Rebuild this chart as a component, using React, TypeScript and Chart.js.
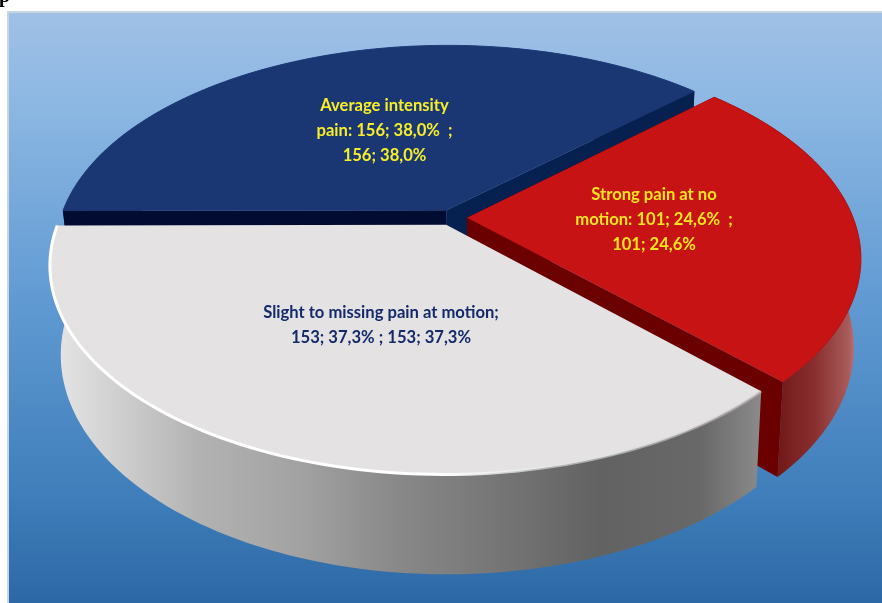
import React, { useEffect, useRef } from "react";
import { Chart, registerables } from "chart.js";

Chart.register(...registerables);

const categories = ["Average intensity pain", "Strong pain at no motion", "Slight to missing pain at motion"];
const patients = [156, 101, 153];
const explode = [11.5, 11.5, 11.5];
const topColors = ["#1b3773", "#c71313", "#e4e2e3"];
const cutStartColors = ["#020c33", "#550000", "rgba(0,0,0,0)"];
const cutEndColors = ["#06204f", "#6a0000", "rgba(0,0,0,0)"];
const rimColors = ["#1f3c7c", "#b01212", "#ffffff"];
const sideStops: [number, string][][] = [
  [[60, "#10275c"], [700, "#10275c"]],
  [[770, "#6b1414"], [815, "#8a2f2f"], [848, "#a85a5a"], [864, "#cf9494"]],
  [[52, "#e6e6e6"], [110, "#d2d2d2"], [200, "#b2b2b2"], [300, "#a2a2a2"], [400, "#888888"], [470, "#7b7b7b"], [600, "#626262"], [700, "#686868"], [760, "#8a8a8a"]],
];

// Projection of the tilted disc onto the canvas
const CX = 452;
const CY = 217.5;
const RX = 386;
const RY = 199;
const TILT = 0.191;
const DEPTH = 87;
const BASE_X = 0.978;
const BASE_Y = 1.05;
const BASE_SHIFT = 2;

function project(u: number, v: number, base: boolean): [number, number] {
  const d = 1 - TILT * v;
  if (base) return [CX + BASE_SHIFT + (RX * BASE_X * u) / d, CY + DEPTH + (RY * BASE_Y * v) / d];
  return [CX + (RX * u) / d, CY + (RY * v) / d];
}

function pctText(value: number) {
  const total = patients.reduce((a, b) => a + b, 0);
  return ((value / total) * 100).toFixed(1).replace(".", ",") + "%";
}

function stat(i: number) {
  return `${patients[i]}; ${pctText(patients[i])}`;
}

function trace(ctx: CanvasRenderingContext2D, pts: [number, number][], close = true) {
  ctx.beginPath();
  pts.forEach((p, i) => (i ? ctx.lineTo(p[0], p[1]) : ctx.moveTo(p[0], p[1])));
  if (close) ctx.closePath();
}

function drawSlice(ctx: CanvasRenderingContext2D, arc: any, i: number) {
  const { startAngle, endAngle, outerRadius } = arc.getProps(["startAngle", "endAngle", "outerRadius"], true);
  const mid = (startAngle + endAngle) / 2;
  const shift = arc.options.offset / outerRadius;
  const ou = Math.cos(mid) * shift;
  const ov = Math.sin(mid) * shift;

  const rimTop: [number, number][] = [];
  const rimBase: [number, number][] = [];
  const steps = 90;
  for (let s = 0; s <= steps; s++) {
    const a = startAngle + ((endAngle - startAngle) * s) / steps;
    const u = ou + Math.cos(a);
    const v = ov + Math.sin(a);
    rimTop.push(project(u, v, false));
    rimBase.push(project(u, v, true));
  }
  const apexTop = project(ou, ov, false);
  const apexBase = project(ou, ov, true);

  ctx.save();
  ctx.lineJoin = "round";

  // Outer wall
  const stops = sideStops[i];
  const x0 = stops[0][0];
  const x1 = stops[stops.length - 1][0];
  const wall = ctx.createLinearGradient(x0, 0, x1, 0);
  stops.forEach(([x, c]) => wall.addColorStop((x - x0) / (x1 - x0), c));
  trace(ctx, [...rimTop, ...rimBase.slice().reverse()]);
  ctx.fillStyle = wall;
  ctx.fill();

  // Cut faces of the wedge
  trace(ctx, [apexTop, rimTop[0], rimBase[0], apexBase]);
  ctx.fillStyle = cutStartColors[i];
  ctx.fill();
  trace(ctx, [apexTop, rimTop[steps], rimBase[steps], apexBase]);
  ctx.fillStyle = cutEndColors[i];
  ctx.fill();

  // Top face
  trace(ctx, [apexTop, ...rimTop]);
  ctx.fillStyle = topColors[i];
  ctx.fill();

  // Bevel along the rim
  if (i === 2) {
    const bevel = ctx.createLinearGradient(50, 0, 760, 0);
    bevel.addColorStop(0, "rgba(255,255,255,1)");
    bevel.addColorStop(0.55, "rgba(255,255,255,1)");
    bevel.addColorStop(0.7, "rgba(235,235,235,0.6)");
    bevel.addColorStop(1, "rgba(200,200,200,0.5)");
    trace(ctx, rimTop, false);
    ctx.strokeStyle = bevel;
    ctx.lineWidth = 3;
    ctx.stroke();
  } else {
    trace(ctx, rimTop, false);
    ctx.strokeStyle = rimColors[i];
    ctx.lineWidth = 1;
    ctx.stroke();
  }
  ctx.restore();
}

const tiltedPie = {
  id: "tiltedPie",
  beforeDraw(chart: any) {
    const { ctx, width, height } = chart;
    ctx.save();
    ctx.fillStyle = "#ffffff";
    ctx.fillRect(0, 0, width, height);
    ctx.fillStyle = "#000000";
    ctx.font = "bold 20px 'Liberation Serif'";
    ctx.textBaseline = "alphabetic";
    ctx.fillText("p", -1, 1.5);
    ctx.fillStyle = "#555555";
    ctx.fillText("ain", 40, 0.4);
    const bg = ctx.createLinearGradient(0, 12, 0, 603);
    bg.addColorStop(0, "#a0c0e6");
    bg.addColorStop(0.15, "#8db8e3");
    bg.addColorStop(0.5, "#5f99d2");
    bg.addColorStop(0.82, "#3f7eba");
    bg.addColorStop(1, "#2c68a5");
    ctx.fillStyle = "#c8d5e2";
    ctx.fillRect(7, 11, width - 7, height - 11);
    ctx.fillStyle = bg;
    ctx.fillRect(9, 13, width - 9, height - 13);
    ctx.restore();
  },
  beforeDatasetDraw(chart: any, args: any) {
    const meta = chart.getDatasetMeta(args.index);
    meta.data.forEach((arc: any, i: number) => drawSlice(chart.ctx, arc, i));
    return false;
  },
  afterDatasetsDraw(chart: any) {
    const { ctx } = chart;
    const notes: [string[], number, number, string][] = [
      [["Average intensity", `pain: ${stat(0)}  ;`, stat(0)], 384.5, 106, "#f7ee2a"],
      [["Strong pain at no", `motion: ${stat(1)}  ;`, stat(1)], 654, 195, "#fbe520"],
      [["Slight to missing pain at motion;", `${stat(2)} ; ${stat(2)}`], 381, 313, "#14296a"],
    ];
    ctx.save();
    ctx.font = "bold 16.6px Lato";
    ctx.textAlign = "center";
    ctx.textBaseline = "middle";
    notes.forEach(([lines, x, y, color]) => {
      ctx.fillStyle = color;
      lines.forEach((line, n) => ctx.fillText(line, x, y + n * 24.7));
    });
    ctx.restore();
  },
};

export default function App() {
  const ref = useRef<HTMLCanvasElement>(null);
  useEffect(() => {
    const chart = new Chart(ref.current!, {
      type: "pie",
      data: {
        labels: categories,
        datasets: [{ data: patients, offset: explode, backgroundColor: topColors, borderWidth: 0 }],
      },
      options: {
        responsive: false,
        animation: false,
        rotation: -90.2,
        plugins: { legend: { display: false }, tooltip: { enabled: false } },
      },
      plugins: [tiltedPie],
    } as any);
    return () => chart.destroy();
  }, []);
  return (
    <div style={{ position: "absolute", left: 0, top: 0 }}>
      <canvas ref={ref} width={882} height={603} style={{ display: "block" }} />
    </div>
  );
}
